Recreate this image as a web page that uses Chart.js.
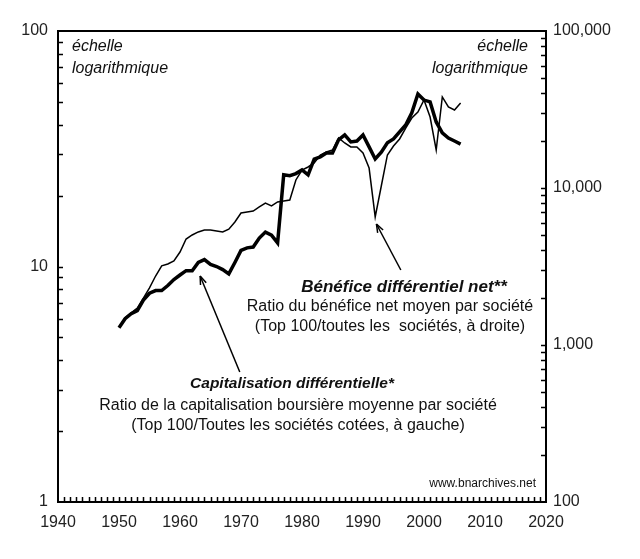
<!DOCTYPE html>
<html>
<head>
<meta charset="utf-8">
<script src="https://cdn.jsdelivr.net/npm/chart.js@4.4.1/dist/chart.umd.min.js"></script>
<style>
  html, body { margin: 0; padding: 0; background: #fff; }
  canvas { display: block; }
</style>
</head>
<body>
<canvas id="c" width="640" height="559"></canvas>
<script>
const years = [1950,1951,1952,1953,1954,1955,1956,1957,1958,1959,1960,1961,1962,1963,1964,1965,1966,1967,1968,1969,1970,1971,1972,1973,1974,1975,1976,1977,1978,1979,1980,1981,1982,1983,1984,1985,1986,1987,1988,1989,1990,1991,1992,1993,1994,1995,1996,1997,1998,1999,2000,2001,2002,2003,2004,2005,2006];

// Capitalisation différentielle (left axis, ratio)
const capitalisation = [5.5,6.0,6.3,6.5,7.2,7.7,7.9,7.9,8.3,8.8,9.2,9.6,9.6,10.4,10.7,10.2,10.0,9.7,9.3,10.4,11.7,12.0,12.1,13.2,14.0,13.6,12.6,24.5,24.3,24.8,25.7,24.5,28.6,29.2,30.3,30.3,34.5,36.2,33.8,34.1,36.2,32.2,28.6,30.6,33.5,34.8,37.3,39.9,44.9,54.0,50.9,50.0,41.1,36.9,35.1,34.1,33.1];

// Bénéfice différentiel net (right axis)
const benefice = [1300,1490,1600,1720,1990,2310,2750,3190,3280,3430,3910,4730,5020,5250,5400,5400,5320,5250,5470,6070,6930,7030,7130,7570,8020,7700,8150,8270,8390,11250,13020,13610,14430,16230,16950,17460,20810,19350,18250,18250,16710,13400,6540,10300,16230,18520,20520,24100,27920,30480,36370,28330,17460,38000,32800,31400,34770];

const xTicks = [1940,1950,1960,1970,1980,1990,2000,2010,2020];
const leftTicks = [1,10,100];
const rightTicks = [100,1000,10000,100000];

const FONT = '"Liberation Sans", Arial, sans-serif';

const decor = {
  id: 'decor',
  afterDatasetsDraw(chart) {
    const ctx = chart.ctx;
    const a = chart.chartArea;
    const sx = chart.scales.x, sy = chart.scales.y, sy2 = chart.scales.y2;
    ctx.save();
    // frame
    ctx.strokeStyle = '#000';
    ctx.lineWidth = 2;
    ctx.strokeRect(a.left, a.top, a.right - a.left, a.bottom - a.top);
    // inward ticks
    ctx.lineWidth = 1.5;
    ctx.beginPath();
    for (let yr = 1941; yr < 2020; yr++) {
      const px = Math.round(sx.getPixelForValue(yr)) + 0.5;
      ctx.moveTo(px, a.bottom);
      ctx.lineTo(px, a.bottom - 5);
    }
    for (let dec = 1; dec < 100; dec *= 10) {
      for (let m = 2; m <= 9; m++) {
        const py = Math.round(sy.getPixelForValue(dec * m)) + 0.5;
        ctx.moveTo(a.left, py); ctx.lineTo(a.left + 5, py);
      }
    }
    {
      const py = Math.round(sy.getPixelForValue(10)) + 0.5;
      ctx.moveTo(a.left, py); ctx.lineTo(a.left + 5, py);
    }
    for (let dec = 100; dec < 100000; dec *= 10) {
      for (let m = 2; m <= 9; m++) {
        const py = Math.round(sy2.getPixelForValue(dec * m)) + 0.5;
        ctx.moveTo(a.right, py); ctx.lineTo(a.right - 5, py);
      }
    }
    for (const v of [1000, 10000]) {
      const py = Math.round(sy2.getPixelForValue(v)) + 0.5;
      ctx.moveTo(a.right, py); ctx.lineTo(a.right - 5, py);
    }
    ctx.stroke();

    // arrows
    function arrow(x1, y1, x2, y2) {
      ctx.strokeStyle = '#000';
      ctx.fillStyle = '#000';
      ctx.lineWidth = 1.5;
      ctx.beginPath();
      ctx.moveTo(x1, y1); ctx.lineTo(x2, y2); ctx.stroke();
      const ang = Math.atan2(y2 - y1, x2 - x1);
      const L = 9, W = 0.35;
      ctx.beginPath();
      ctx.moveTo(x2, y2);
      ctx.lineTo(x2 - L * Math.cos(ang - W), y2 - L * Math.sin(ang - W));
      ctx.moveTo(x2, y2);
      ctx.lineTo(x2 - L * Math.cos(ang + W), y2 - L * Math.sin(ang + W));
      ctx.stroke();
    }
    arrow(sx.getPixelForValue(1969.8), 372, sx.getPixelForValue(1963.3), 276);
    arrow(sx.getPixelForValue(1996.2), 270, sx.getPixelForValue(1992.2), 224);

    // texts
    ctx.fillStyle = '#111';
    ctx.textBaseline = 'middle';
    ctx.font = 'italic 16px ' + FONT;
    ctx.textAlign = 'left';
    ctx.fillText('échelle', a.left + 14, 47);
    ctx.fillText('logarithmique', a.left + 14, 69);
    ctx.textAlign = 'right';
    ctx.fillText('échelle', a.right - 18, 47);
    ctx.fillText('logarithmique', a.right - 18, 69);

    ctx.textAlign = 'center';
    ctx.font = 'bold italic 17px ' + FONT;
    ctx.fillText('Bénéfice différentiel net**', 404, 287);
    ctx.font = '16px ' + FONT;
    ctx.fillText('Ratio du bénéfice net moyen par société', 390, 307);
    ctx.fillText('(Top 100/toutes les  sociétés, à droite)', 390, 327);

    ctx.font = 'bold italic 15.5px ' + FONT;
    ctx.fillText('Capitalisation différentielle*', 292, 384);
    ctx.font = '16px ' + FONT;
    ctx.fillText('Ratio de la capitalisation boursière moyenne par société', 298, 406);
    ctx.fillText('(Top 100/Toutes les sociétés cotées, à gauche)', 298, 426);

    ctx.font = '12px ' + FONT;
    ctx.textAlign = 'right';
    ctx.fillText('www.bnarchives.net', a.right - 10, 484);
    ctx.restore();
  }
};

new Chart(document.getElementById('c'), {
  type: 'line',
  data: {
    datasets: [
      {
        label: 'Bénéfice différentiel net',
        data: years.map((y, i) => ({ x: y, y: benefice[i] })),
        yAxisID: 'y2',
        borderColor: '#000',
        borderWidth: 1.5,
        pointRadius: 0,
        tension: 0,
        fill: false
      },
      {
        label: 'Capitalisation différentielle',
        data: years.map((y, i) => ({ x: y, y: capitalisation[i] })),
        yAxisID: 'y',
        borderColor: '#000',
        borderWidth: 3.5,
        pointRadius: 0,
        tension: 0,
        fill: false
      }
    ]
  },
  options: {
    responsive: false,
    animation: false,
    layout: { padding: { top: 31, left: 0, right: 0, bottom: 0 } },
    plugins: { legend: { display: false }, tooltip: { enabled: false } },
    scales: {
      x: {
        type: 'linear',
        min: 1940, max: 2020,
        afterBuildTicks: s => { s.ticks = xTicks.map(v => ({ value: v })); },
        afterFit: s => { s.height = 57; },
        grid: { display: false, drawTicks: false },
        border: { display: false },
        ticks: { padding: 11, color: '#222', font: { family: FONT, size: 16 }, callback: v => String(v), maxRotation: 0 }
      },
      y: {
        type: 'logarithmic',
        position: 'left',
        min: 1, max: 100,
        afterBuildTicks: s => { s.ticks = leftTicks.map(v => ({ value: v })); },
        afterFit: s => { s.width = 58; },
        grid: { display: false, drawTicks: false },
        border: { display: false },
        ticks: { padding: 10, color: '#222', font: { family: FONT, size: 16 }, callback: v => String(v) }
      },
      y2: {
        type: 'logarithmic',
        position: 'right',
        min: 100, max: 100000,
        afterBuildTicks: s => { s.ticks = rightTicks.map(v => ({ value: v })); },
        afterFit: s => { s.width = 94; },
        grid: { display: false, drawTicks: false },
        border: { display: false },
        ticks: { padding: 7, color: '#222', font: { family: FONT, size: 16 }, callback: v => Number(v).toLocaleString('en-US') }
      }
    }
  },
  plugins: [decor]
});
</script>
</body>
</html>
